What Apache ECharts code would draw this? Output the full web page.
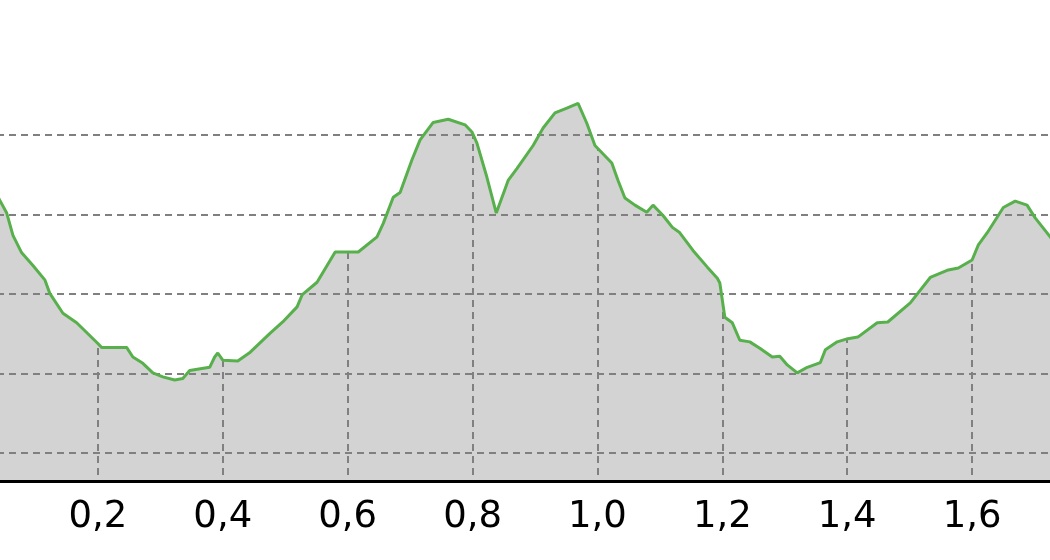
<!DOCTYPE html>
<html>
<head>
<meta charset="utf-8">
<script src="https://cdn.jsdelivr.net/npm/echarts@6/dist/echarts.min.js"></script>
<style>
  html, body { margin: 0; padding: 0; background: #fff; }
  #chart { width: 1050px; height: 560px; }
</style>
</head>
<body>
<div id="chart"></div>
<script>
// distance (km) and elevation profile
var dist = [0.030, 0.043, 0.054, 0.064, 0.078, 0.096, 0.115, 0.123, 0.144, 0.166,
  0.200, 0.206, 0.246, 0.256, 0.272, 0.288, 0.304, 0.323, 0.336, 0.347,
  0.379, 0.387, 0.392, 0.400, 0.424, 0.444, 0.476, 0.496, 0.519, 0.527,
  0.551, 0.580, 0.599, 0.617, 0.647, 0.657, 0.673, 0.684, 0.703, 0.716,
  0.737, 0.761, 0.788, 0.799, 0.807, 0.823, 0.838, 0.857, 0.871, 0.897,
  0.913, 0.932, 0.951, 0.969, 0.983, 0.996, 1.023, 1.033, 1.044, 1.060,
  1.079, 1.089, 1.105, 1.120, 1.131, 1.153, 1.176, 1.192, 1.196, 1.204,
  1.216, 1.228, 1.244, 1.260, 1.280, 1.292, 1.304, 1.320, 1.336, 1.357,
  1.365, 1.384, 1.401, 1.417, 1.448, 1.465, 1.501, 1.533, 1.560, 1.578,
  1.600, 1.610, 1.624, 1.650, 1.669, 1.688, 1.701, 1.725, 1.740];
var elev = [283.7, 281.8, 280.2, 277.4, 275.2, 273.6, 271.8, 270.1, 267.6, 266.4,
  263.8, 263.3, 263.3, 262.1, 261.3, 260.1, 259.6, 259.2, 259.4, 260.4,
  260.8, 262.1, 262.6, 261.7, 261.6, 262.7, 265.1, 266.5, 268.4, 269.9,
  271.5, 275.3, 275.3, 275.3, 277.2, 278.9, 282.2, 282.8, 286.9, 289.4,
  291.6, 292.0, 291.3, 290.4, 289.0, 284.7, 280.2, 284.3, 285.8, 288.7,
  290.9, 292.8, 293.4, 294.0, 291.5, 288.7, 286.5, 284.3, 282.1, 281.2,
  280.3, 281.2, 279.9, 278.4, 277.8, 275.5, 273.4, 272.0, 271.4, 267.1,
  266.4, 264.2, 264.0, 263.2, 262.1, 262.2, 261.1, 260.1, 260.8, 261.4,
  263.0, 264.0, 264.4, 264.6, 266.4, 266.5, 268.9, 272.1, 273.0, 273.3,
  274.3, 276.2, 277.7, 280.9, 281.7, 281.2, 279.6, 277.2, 275.8];
var elevTicks = [250, 260, 270, 280, 290];

var points = dist.map(function (d, i) { return [d, elev[i]]; });

var chart = echarts.init(document.getElementById('chart'));

var dashed = { color: '#808080', width: 2, type: [7, 5] };

chart.setOption({
  animation: false,
  backgroundColor: '#fff',
  grid: { left: -27, right: -47, top: 0, bottom: 79, containLabel: false, outerBoundsMode: 'none' },
  xAxis: {
    type: 'value',
    min: 0,
    max: 1.8,
    interval: 0.2,
    z: 2,
    axisLine: { show: true, lineStyle: { color: '#000', width: 3 } },
    axisTick: { show: false },
    axisLabel: {
      margin: 18,
      color: '#000',
      fontFamily: 'DejaVu Sans',
      fontSize: 37,
      showMinLabel: false,
      showMaxLabel: false,
      formatter: function (v) { return v.toFixed(1).replace('.', ','); }
    },
    splitLine: { show: true, lineStyle: dashed }
  },
  yAxis: {
    type: 'value',
    min: 246.5,
    max: 307,
    z: 4,
    axisLine: { show: false },
    axisLabel: { show: false },
    axisTick: { show: false, customValues: elevTicks },
    splitLine: { show: true, lineStyle: dashed }
  },
  series: [
    {
      // grey ground under the profile
      type: 'line',
      data: points,
      showSymbol: false,
      z: 1,
      lineStyle: { width: 0 },
      areaStyle: { color: '#d3d3d3', opacity: 1, origin: 'start' }
    },
    {
      // white sky above the profile, hides the vertical grid there
      type: 'line',
      data: points,
      showSymbol: false,
      z: 3,
      lineStyle: { width: 0 },
      areaStyle: { color: '#fff', opacity: 1, origin: 'end' }
    },
    {
      type: 'line',
      data: points,
      showSymbol: false,
      z: 5,
      lineStyle: { color: '#58b04c', width: 3 }
    }
  ]
});
</script>
</body>
</html>
